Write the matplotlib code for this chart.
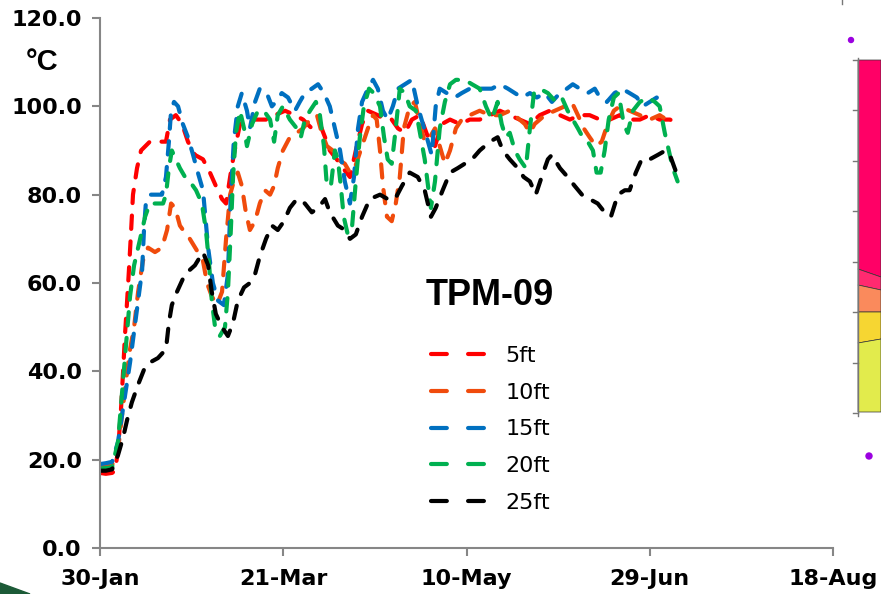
import matplotlib
matplotlib.use("Agg")
import matplotlib.pyplot as plt
from matplotlib.patches import Polygon, Circle

plt.rcParams['font.family'] = ['Liberation Sans', 'DejaVu Sans']

# days since 30-Jan, temperature in deg C
red_days = [0, 1.6, 3.3, 4.1, 4.9, 5.7, 6.3, 6.8, 7.4, 7.9, 8.5, 9.0, 10.1, 11.2, 13.6,
            16.4, 18.0, 19.1, 20.7, 22.4, 24.0, 25.9, 28.1, 30.0, 31.6, 33.3, 34.4, 35.5,
            36.5, 38.2, 40.4, 43.1, 45.3, 47.7, 50.5, 53.2, 55.4, 57.8, 60.0, 61.4, 62.7,
            64.6, 66.3, 68.2, 69.8, 71.5, 73.1, 75.8, 77.7, 79.6, 81.3, 83.2, 85.1, 87.3,
            89.5, 91.4, 93.3, 95.5, 98.2, 100.9, 103.6, 106.4, 109.1, 111.8, 114.5, 117.3,
            120.0, 122.7, 125.5, 128.2, 130.9, 133.6, 136.4, 139.1, 141.8, 144.5, 147.3,
            150.0, 152.7, 155.5, 158.2]
red_vals = [17.0, 16.8, 17.0, 17.5, 22, 31, 40, 48, 56, 63, 72, 80, 86, 90, 92,
            92, 92, 97, 98, 96, 92, 89, 88, 85, 82, 79, 78, 84,
            89, 96, 97, 97, 97, 98, 99, 98, 97, 95, 96, 93, 90,
            88, 86, 84, 90, 96, 99, 98, 97, 97, 95, 94, 97, 98,
            93, 91, 96, 97, 96, 97, 97, 98, 99, 98, 97, 96,
            98, 99, 98, 97, 98, 98, 97, 97, 98, 97, 97,
            98, 97, 97, 96]

orange_days = [0, 1.6, 3.3, 4.9, 6.0, 7.1, 8.2, 9.3, 10.4, 11.7, 13.1, 15.0, 16.9, 18.3,
               19.4, 20.5, 21.8, 23.5, 24.5, 26.7, 28.1, 29.2, 30.5, 31.9, 33.3, 34.4,
               35.5, 36.5, 37.6, 38.7, 39.8, 40.9, 42.3, 43.6, 45.0, 46.4, 47.5, 48.5,
               49.9, 51.8, 53.7, 55.4, 57.3, 59.2, 60.5, 61.9, 63.5, 64.9, 66.8, 68.2,
               69.5, 71.5, 73.1, 74.5, 75.5, 76.4, 77.2, 78.3, 79.6, 80.7, 81.8, 82.9,
               84.5, 85.9, 87.3, 88.6, 90.0, 91.4, 92.7, 94.1, 95.5, 97.1, 98.7, 100.9,
               103.6, 106.4, 109.1, 111.8, 114.5, 115.9, 117.3, 118.6, 121.4, 124.1,
               126.8, 128.7, 130.4, 132.0, 133.6, 135.3, 136.9, 138.5, 140.2, 141.8,
               144.5, 147.3, 150.0, 152.7, 154.6]
orange_vals = [18.5, 18.6, 18.8, 22, 30, 38, 45, 50, 58, 65, 68, 67, 68, 72,
               78, 77, 73, 71, 70, 67, 65, 60, 57, 55, 58, 70,
               80, 83, 85, 82, 76, 72, 74, 78, 81, 80, 82, 86,
               90, 93, 94, 95, 97, 98, 94, 91, 90, 88, 87, 85,
               86, 91, 95, 98, 97, 90, 82, 75, 74, 78, 84, 95,
               100, 101, 96, 92, 93, 95, 91, 87, 90, 95, 97, 98,
               99, 98, 98, 99, 97, 96, 94, 96, 98, 99,
               100, 101, 98, 95, 93, 91, 92, 96, 99, 100,
               99, 98, 97, 98, 97]

blue_days = [0, 1.6, 3.3, 4.9, 6.0, 7.1, 8.2, 9.3, 10.4, 11.5, 12.0, 12.5, 13.6, 15.3,
             16.9, 18.0, 18.8, 19.4, 20.2, 21.3, 22.6, 24.0, 25.4, 26.7, 28.1, 29.5,
             30.8, 32.2, 33.8, 34.9, 35.7, 36.5, 37.6, 38.7, 40.1, 40.9, 42.3, 43.6,
             45.5, 46.9, 48.0, 49.6, 51.3, 53.2, 54.5, 55.9, 57.8, 59.5, 61.1, 62.7,
             64.1, 65.5, 66.8, 68.2, 69.3, 70.4, 71.5, 73.1, 74.5, 75.8, 77.2, 78.5,
             79.9, 81.3, 83.2, 85.1, 86.7, 88.1, 89.5, 90.5, 91.6, 92.7, 94.6, 96.8,
             98.7, 100.9, 103.1, 105.0, 106.9, 109.1, 111.3, 113.2, 115.1, 117.3,
             119.2, 121.4, 123.3, 125.5, 127.4, 129.0, 130.9, 133.1, 135.0, 136.4,
             138.3, 140.4, 142.4, 144.5, 146.5, 148.1, 150.0, 151.9, 153.5, 154.6]
blue_vals = [19.0, 19.2, 19.5, 24, 30, 36, 42, 49, 56, 63, 72, 78, 80, 80,
             80, 84, 92, 99, 101, 100, 96, 93, 89, 85, 81, 68,
             60, 56, 55, 62, 80, 92, 100, 103, 99, 95, 101, 104,
             103, 100, 101, 103, 102, 99, 101, 103, 104, 105, 103, 100,
             95, 90, 83, 78, 84, 95, 101, 104, 106, 104, 99, 97,
             100, 104, 105, 106, 100, 96, 92, 89, 100, 104, 103, 102,
             103, 104, 104, 104, 104, 105, 104, 103, 102, 103,
             102, 103, 101, 103, 104, 105, 104, 103, 104, 102,
             101, 103, 104, 103, 102, 100, 101, 102, 101, 101]

green_days = [0, 1.6, 3.3, 4.9, 5.7, 6.5, 7.4, 8.2, 9.3, 10.4, 11.5, 12.3, 13.6, 15.5,
              17.2, 18.0, 18.8, 19.6, 20.7, 21.8, 23.2, 24.5, 26.2, 27.8, 28.9, 29.7,
              30.5, 31.4, 32.7, 34.1, 34.9, 35.7, 36.3, 37.1, 38.2, 39.3, 40.1, 41.5,
              43.1, 44.7, 46.4, 47.5, 48.5, 49.9, 51.8, 53.7, 54.8, 55.9, 57.3, 58.9,
              60.0, 61.1, 61.9, 63.0, 64.1, 64.9, 65.7, 66.5, 67.6, 68.7, 69.8, 70.9,
              72.0, 73.4, 74.7, 76.4, 77.5, 78.5, 79.6, 80.7, 81.8, 83.2, 84.5, 86.2,
              87.3, 88.6, 89.5, 90.3, 91.4, 92.7, 94.1, 95.5, 97.1, 99.5, 101.5, 103.6,
              105.3, 106.9, 108.5, 109.6, 110.7, 111.8, 113.2, 114.5, 116.2, 117.3,
              118.4, 120.0, 122.2, 124.4, 126.0, 127.6, 129.0, 130.4, 131.7, 133.1,
              134.5, 135.5, 136.6, 137.7, 138.8, 140.2, 141.5, 142.9, 144.0, 145.4,
              147.3, 149.5, 151.4, 152.7, 154.1, 155.2, 156.3, 157.6]
green_vals = [18.0, 18.1, 18.3, 24, 32, 40, 49, 57, 64, 68, 72, 75, 78, 78,
              78, 80, 86, 90, 88, 86, 84, 83, 81, 78, 72, 65,
              56, 50, 48, 50, 58, 72, 84, 94, 99, 95, 91, 96,
              99, 99, 97, 92, 98, 100, 97, 95, 93, 97, 99, 101,
              98, 91, 82, 82, 90, 88, 82, 75, 71, 72, 83, 93,
              100, 104, 103, 100, 93, 88, 87, 95, 104, 103, 100, 99,
              94, 88, 82, 77, 83, 95, 101, 105, 106, 106, 105, 104,
              100, 97, 101, 96, 93, 94, 90, 88, 86, 95,
              103, 104, 103, 101, 102, 99, 97, 95, 93, 92,
              90, 85, 85, 90, 97, 102, 103, 96, 94, 99,
              101, 102, 101, 100, 94, 90, 86, 83]

black_days = [0, 1.6, 3.3, 4.9, 6.3, 7.4, 8.7, 10.4, 12.3, 13.6, 15.8, 18.0, 18.8, 19.6,
              21.0, 23.2, 25.9, 28.1, 29.5, 30.5, 31.6, 33.3, 34.9, 36.3, 37.6, 39.3,
              40.9, 42.3, 43.6, 45.3, 46.9, 48.5, 50.2, 51.8, 53.7, 55.9, 57.8, 59.5,
              61.4, 62.7, 64.9, 66.8, 68.2, 69.8, 71.5, 73.6, 76.4, 78.5, 80.5, 82.4,
              84.5, 86.7, 88.6, 90.3, 91.6, 93.5, 95.5, 97.6, 99.5, 101.5, 103.6, 106.4,
              108.5, 109.9, 111.8, 114.0, 115.6, 117.3, 118.9, 120.5, 122.2, 123.3,
              125.5, 127.6, 129.5, 131.5, 133.6, 135.8, 137.7, 139.4, 141.3, 143.2,
              144.5, 146.2, 147.8, 150.0, 152.2, 154.3, 155.5, 156.8, 158.2]
black_vals = [17.5, 17.5, 17.8, 21, 25, 29, 33, 37, 41, 42, 43, 45, 51, 55,
              58, 62, 64, 67, 64, 58, 53, 50, 48, 51, 56, 59,
              60, 62, 66, 70, 73, 72, 74, 77, 79, 78, 76, 77,
              79, 76, 73, 72, 70, 71, 75, 79, 80, 79, 79, 82,
              85, 84, 81, 75, 77, 81, 85, 86, 87, 88, 90, 92,
              93, 90, 88, 86, 84, 83, 80, 84, 88, 89,
              86, 84, 82, 80, 79, 78, 76, 75, 80, 81,
              81, 85, 88, 88, 89, 90, 89, 86, 83]

labels = ['5ft', '10ft', '15ft', '20ft', '25ft']
colors = ['#FF0000', '#F04B0C', '#0070C0', '#00B050', '#000000']
x_ticks = [0, 50, 100, 150, 200]
x_labels = ['30-Jan', '21-Mar', '10-May', '29-Jun', '18-Aug']
y_ticks = [0, 20, 40, 60, 80, 100, 120]

fig = plt.figure(figsize=(8.81, 5.94), dpi=100)

# bits of neighbouring slide content
deco = fig.add_axes([0, 0, 1, 1], zorder=-1)
deco.set_xlim(0, 881)
deco.set_ylim(594, 0)
deco.axis('off')
bands = [
    ([(858, 60), (881, 60), (881, 277), (858, 269)], '#FF0066'),
    ([(858, 269), (881, 277), (881, 290), (858, 285)], '#FF2A70'),
    ([(858, 285), (881, 290), (881, 312), (858, 312)], '#FA8A5C'),
    ([(858, 312), (881, 312), (881, 339), (858, 343)], '#F6D632'),
    ([(858, 343), (881, 339), (881, 412), (858, 412)], '#E2EB4C'),
]
for pts, c in bands:
    deco.add_patch(Polygon(pts, closed=True, facecolor=c, edgecolor='#333333', lw=0.5))
deco.plot([858, 858], [58, 416], color='#777777', lw=1)
for yy in [60, 110, 161, 211, 262, 312, 363, 413]:
    deco.plot([853, 858], [yy, yy], color='#777777', lw=1)
deco.add_patch(Circle((851, 40), 2.5, color='#9B00E0'))
deco.add_patch(Circle((869, 456), 3, color='#9B00E0'))
deco.plot([842, 842], [0, 4], color='#777777', lw=1)
deco.add_patch(Polygon([(0, 583), (30, 594), (0, 594)], closed=True, color='#1C5A37'))

ax = fig.add_axes([100 / 881, 1 - 548 / 594, 733 / 881, 530 / 594])

series = [(red_days, red_vals), (orange_days, orange_vals), (blue_days, blue_vals),
          (green_days, green_vals), (black_days, black_vals)]
for (d, v), lab, c in zip(series, labels, colors):
    ax.plot(d, v, color=c, lw=3, linestyle=(0, (3.2, 3.0)),
            dash_capstyle='round', solid_capstyle='round', label=lab)

ax.set_xlim(0, 200)
ax.set_ylim(0, 120)
ax.set_xticks(x_ticks)
ax.set_xticklabels(x_labels)
ax.set_yticks(y_ticks)
ax.set_yticklabels(['%.1f' % t for t in y_ticks])
for s in ['top', 'right']:
    ax.spines[s].set_visible(False)
for s in ['left', 'bottom']:
    ax.spines[s].set_color('#868686')
    ax.spines[s].set_linewidth(1.5)
ax.tick_params(axis='both', colors='#868686', width=1.5, length=6, direction='out',
               labelcolor='black', labelsize=16)
ax.tick_params(axis='x', pad=9)
ax.tick_params(axis='y', pad=7)
for t in ax.get_xticklabels() + ax.get_yticklabels():
    t.set_fontweight('bold')
    t.set_family('DejaVu Sans')
ax.patch.set_alpha(0)

fig.text(42 / 881, 1 - 62 / 594, '°C', fontsize=21, fontweight='bold',
         ha='center', va='center')
ax.text(0.532, 0.477, 'TPM-09', transform=ax.transAxes, fontsize=26,
        fontweight='bold', ha='center', va='center')

leg = ax.legend(loc='upper left', bbox_to_anchor=(0.4365, 0.402), frameon=False,
                prop={'family': 'DejaVu Sans', 'size': 16}, handlelength=2.4,
                handletextpad=0.95, labelspacing=0.75, borderpad=0)
for ln in leg.get_lines():
    ln.set_linestyle((0, (3.8, 5.1)))

fig.savefig('out.png', dpi=100)
